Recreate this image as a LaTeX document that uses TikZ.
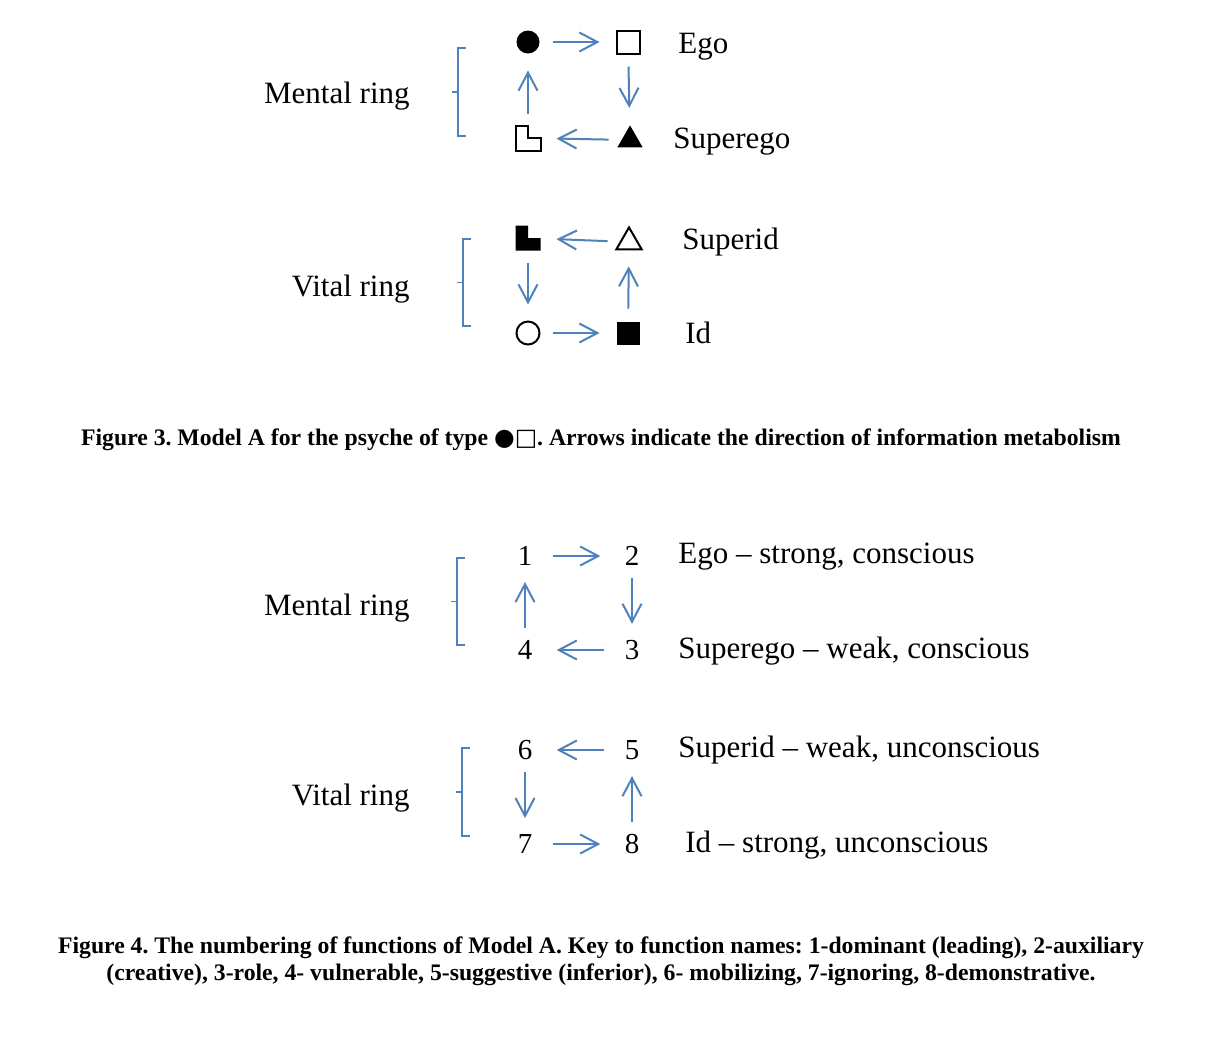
\documentclass[tikz,border=0pt]{standalone}
\usepackage{fontspec}
\setmainfont{Liberation Serif}
\newfontfamily\symfont{DejaVu Sans}
\usetikzlibrary{arrows.meta,shapes.geometric}

\definecolor{ringblue}{RGB}{79,129,189}
\frenchspacing

\begin{document}
\begin{tikzpicture}[x=0.5pt, y=-0.5pt,
    fn/.style={inner sep=0pt, minimum size=11.5pt, line width=1pt},
    tri/.style={fn, regular polygon, regular polygon sides=3, minimum size=14.6pt},
    num/.style={inner xsep=4pt, inner ysep=0pt, font=\fontsize{14.5}{17}\selectfont},
    ring/.style={anchor=base east, inner sep=0pt, font=\fontsize{15.5}{18}\selectfont},
    lbl/.style={anchor=base west, inner sep=0pt, font=\fontsize{15.5}{18}\selectfont},
    flow/.style={-{Straight Barb[length=9pt,width=9.5pt]}, line width=1pt, ringblue, shorten <=6pt, shorten >=8pt},
    brk/.style={ringblue, line width=0.8pt},
    caption/.style={font=\bfseries\fontsize{11.85}{13.5}\selectfont, align=center}
]
\useasboundingbox (0,0) rectangle (1230,1041);

% Figure 3: symbols
\node[fn, circle, fill] (dom3) at (528,42) {};
\node[fn, draw] (aux3) at (628,42) {};
\node[tri, fill] (rol3) at (630,140) {};
\node[fn] (vul3) at (528,138) {};
\draw[line width=1pt] (vul3.south west) -- (vul3.north west) -- (vul3.north) -- (vul3.center) -- (vul3.east) -- (vul3.south east) -- cycle;
\node[tri, draw] (sug3) at (629,242) {};
\node[fn] (mob3) at (528,238) {};
\fill (mob3.south west) -- (mob3.north west) -- (mob3.north) -- (mob3.center) -- (mob3.east) -- (mob3.south east) -- cycle;
\node[fn, circle, draw] (ign3) at (528,333) {};
\node[fn, fill] (dem3) at (628,333) {};

\draw[flow] (dom3) -- (aux3);
\draw[flow] (aux3) -- (rol3);
\draw[flow] (rol3) -- (vul3);
\draw[flow] (vul3) -- (dom3);
\draw[flow] (sug3) -- (mob3);
\draw[flow] (mob3) -- (ign3);
\draw[flow] (ign3) -- (dem3);
\draw[flow] (dem3) -- (sug3);

\node[ring] (mental3) at (410,103) {Mental ring};
\node[ring] (vital3) at (410,296) {Vital ring};
\node[lbl] (ego3) at (678,53) {Ego};
\node[lbl] (superego3) at (673,148) {Superego};
\node[lbl] (superid3) at (682,249) {Superid};
\node[lbl] (id3) at (685,343) {Id};

\node[caption] (cap3) at (601,440) {Figure 3. Model A for the psyche of type {\symfont ●□}. Arrows indicate the direction of information metabolism};

% Figure 4: numbered functions
\node[num] (f1) at (525,556) {1};
\node[num] (f2) at (632,556) {2};
\node[num] (f3) at (632,650) {3};
\node[num] (f4) at (525,650) {4};
\node[num] (f5) at (632,750) {5};
\node[num] (f6) at (525,750) {6};
\node[num] (f7) at (525,844) {7};
\node[num] (f8) at (632,844) {8};

\draw[flow] (f1) -- (f2);
\draw[flow] (f2) -- (f3);
\draw[flow] (f3) -- (f4);
\draw[flow] (f4) -- (f1);
\draw[flow] (f5) -- (f6);
\draw[flow] (f6) -- (f7);
\draw[flow] (f7) -- (f8);
\draw[flow] (f8) -- (f5);

\node[ring] (mental4) at (410,615) {Mental ring};
\node[ring] (vital4) at (410,805) {Vital ring};
\node[lbl] (ego4) at (678,563) {Ego -- strong, conscious};
\node[lbl] (superego4) at (678,658) {Superego -- weak, conscious};
\node[lbl] (superid4) at (678,757) {Superid -- weak, unconscious};
\node[lbl] (id4) at (685,852) {Id -- strong, unconscious};

\node[caption] (cap4) at (601,961) {Figure 4. The numbering of functions of Model A. Key to function names: 1-dominant (leading), 2-auxiliary\\(creative), 3-role, 4- vulnerable, 5-suggestive (inferior), 6- mobilizing, 7-ignoring, 8-demonstrative.};

% ring brackets
\foreach \bx/\btop/\bbot in {458/48/136, 463/239/326, 457/558/645, 462/748/836}
  \draw[brk] (\bx+8,\btop) -- (\bx,\btop) -- (\bx,\bbot) -- (\bx+8,\bbot)
             (\bx,{(\btop+\bbot)/2}) -- (\bx-6,{(\btop+\bbot)/2});
\end{tikzpicture}
\end{document}
